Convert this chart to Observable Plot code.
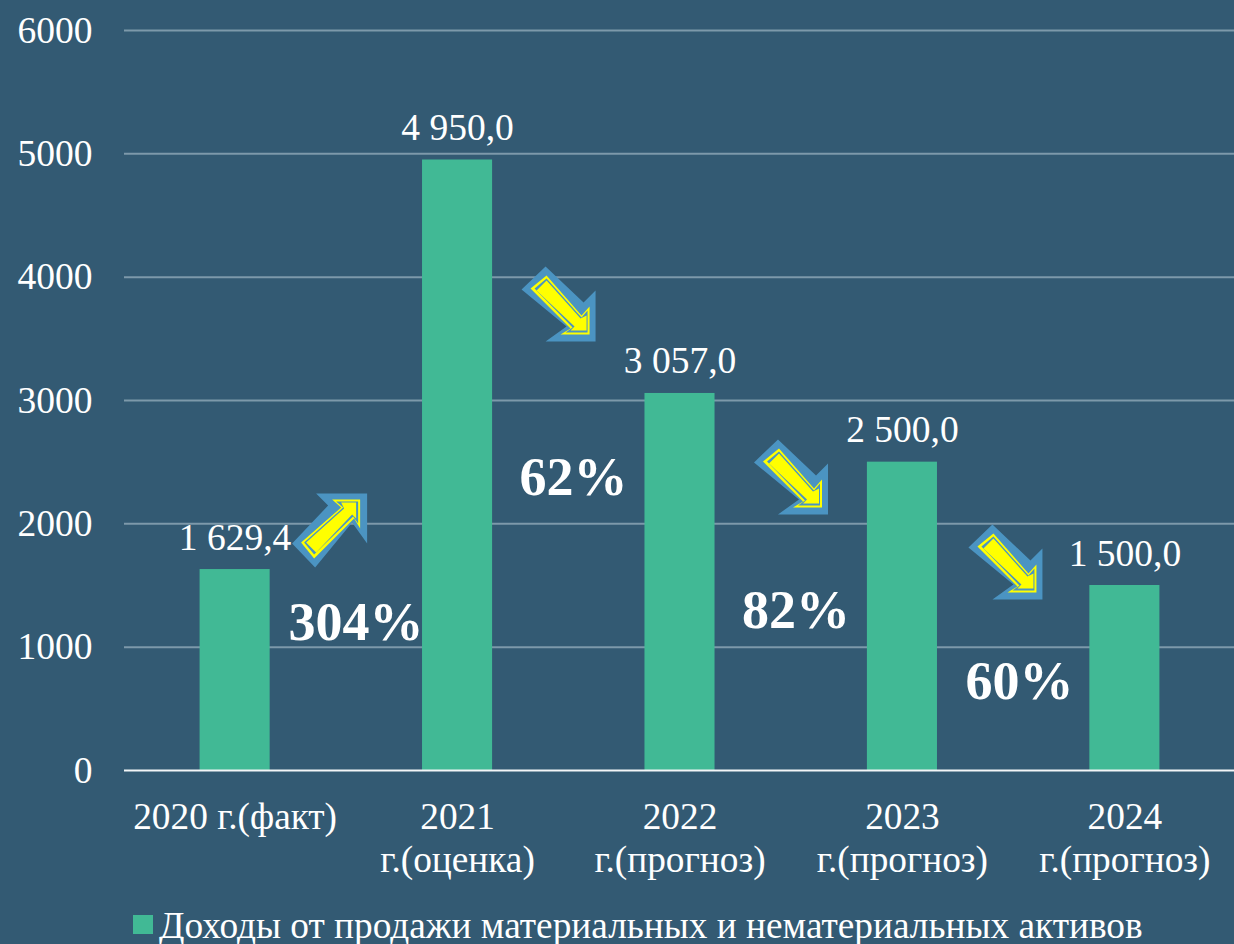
<!DOCTYPE html>
<html lang="ru">
<head>
<meta charset="utf-8">
<script src="https://cdn.jsdelivr.net/npm/d3@7"></script>
<script src="https://cdn.jsdelivr.net/npm/@observablehq/plot@0.6"></script>
<style>
html,body{margin:0;padding:0;width:1234px;height:944px;overflow:hidden;background:#335a73;}
#chart svg{display:block;background:transparent;}
#legend{position:relative;height:44px;font-family:"Liberation Serif",serif;font-size:37.3px;color:#fff;white-space:nowrap;}
#legend i{position:absolute;left:133px;top:15px;width:20px;height:19px;background:#41b995;}
#legend span{position:absolute;left:159px;top:4px;line-height:44px;}
</style>
</head>
<body>
<div id="chart"></div>
<div id="legend"><i></i><span id="legend-text"></span></div>
<script>
const categories = ["2020 г.(факт)", "2021\nг.(оценка)", "2022\nг.(прогноз)", "2023\nг.(прогноз)", "2024\nг.(прогноз)"];
const values = [1629.4, 4950, 3057, 2500, 1500];
const yTicks = [0, 1000, 2000, 3000, 4000, 5000, 6000];
const seriesName = "Доходы от продажи материальных и нематериальных активов";

const percentLabels = ["304%", "62%", "82%", "60%"];
const percentY = [1200, 2376, 1297, 722];
const percentDx = [121, 116, 116, 117];

const arrowFrom = [0, 1, 2, 3];
const arrowY = [1970, 3762, 2360, 1670];
const arrowDx = [97, 104, 114, 106];
const arrowRotate = [0, 90, 90, 90];

const bars = categories.map((c, i) => ({c, v: values[i]}));
const percents = percentLabels.map((t, i) => ({t, c: categories[i], y: percentY[i], dx: percentDx[i]}));
const arrows = arrowFrom.map((k, i) => ({c: categories[k], y: arrowY[i], dx: arrowDx[i], rotate: arrowRotate[i]}));

const fmt = d3.formatLocale({decimal: ",", thousands: " ", grouping: [3]}).format(",.1f");
const serif = "Liberation Serif";

// Arrow glyph pointing up-right, drawn as custom dot symbols in nested layers.
const arrowOuter = [[35,-34],[-16,-34],[-4,-22],[-40,16],[-17,40],[20,-5],[35,16]];
const arrowRing  = [[28,-28],[0,-28],[9,-20],[-31,15],[-18,31],[22,-9],[28,1]];
const arrowGap   = [[26,-26],[4,-26],[11,-20],[-28,15],[-18,27],[21,-11],[26,-4]];
const arrowCore  = [[24,-25],[9,-25],[12,-19],[-26,15],[-16,25],[20,-13],[24,-9]];
const arrowSymbol = shape => ({
  draw(ctx) {
    shape.forEach(([x, y], i) => i ? ctx.lineTo(x, y) : ctx.moveTo(x, y));
    ctx.closePath();
  }
});
const arrowLayer = (shape, fill) => arrows.map(a => Plot.dot([a], {
  x: "c", y: "y", dx: a.dx, r: 5, symbol: arrowSymbol(shape), fill, stroke: "none", rotate: a.rotate
}));

const chart = Plot.plot({
  width: 1234, height: 900,
  marginLeft: 124, marginRight: 0, marginTop: 30, marginBottom: 130,
  style: {background: "transparent", color: "#fff", fontFamily: serif, fontSize: "37px", overflow: "visible"},
  x: {domain: categories, paddingInner: 0.685, paddingOuter: 0.3425, align: 0.5, range: [123.4, 1235.6], round: false},
  y: {domain: [0, 6000]},
  marks: [
    Plot.ruleY(yTicks.slice(1), {stroke: "#7d99aa", strokeWidth: 2}),
    Plot.barY(bars, {x: "c", y: "v", fill: "#41b995"}),
    Plot.ruleY([0], {stroke: "#f2f5f7", strokeWidth: 2}),
    Plot.axisY({ticks: yTicks, tickSize: 0, tickPadding: 32, tickFormat: d => String(d), label: null, fontSize: 37.5, fill: "#fff"}),
    Plot.axisX({tickSize: 0, tickPadding: 28, label: null, fontSize: 37.3, lineHeight: 1.16, fill: "#fff", lineAnchor: "top"}),
    Plot.text(bars, {x: "c", y: "v", text: d => fmt(d.v), dy: -20, lineAnchor: "bottom", fontSize: 37.5, fill: "#fff"}),
    ...percents.map(p => Plot.text([p], {x: "c", y: "y", dx: p.dx, text: "t", fontSize: 54, fontWeight: "bold", fill: "#fff"})),
    ...arrowLayer(arrowOuter, "#4b94c2"),
    ...arrowLayer(arrowRing, "#ffff00"),
    ...arrowLayer(arrowGap, "#4b94c2"),
    ...arrowLayer(arrowCore, "#ffff00")
  ]
});
document.getElementById("chart").append(chart);
document.getElementById("legend-text").textContent = seriesName;
</script>
</body>
</html>
